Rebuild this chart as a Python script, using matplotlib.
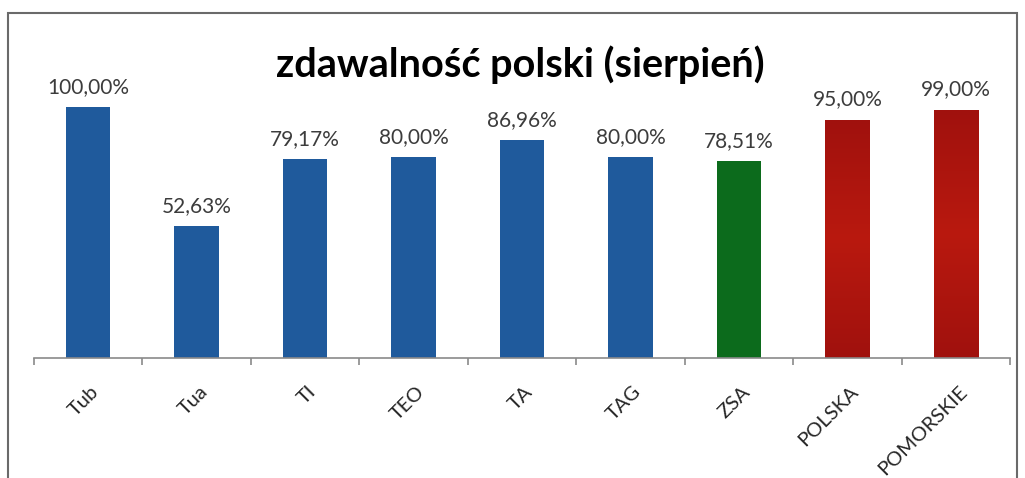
import matplotlib.pyplot as plt
from matplotlib.patches import Rectangle
from matplotlib.colors import LinearSegmentedColormap
import numpy as np

categories = ['Tub', 'Tua', 'TI', 'TEO', 'TA', 'TAG', 'ZSA', 'POLSKA', 'POMORSKIE']
values = [100.00, 52.63, 79.17, 80.00, 86.96, 80.00, 78.51, 95.00, 99.00]
colors = ['#1f5a9c'] * 6 + ['#0c6b1c'] + ['#a8130f'] * 2

plt.rcParams['font.family'] = ['Lato', 'DejaVu Sans']

fig = plt.figure(figsize=(10.25, 4.78), dpi=100)
fig.patches.append(Rectangle((8 / 1025, -0.01), 1009 / 1025, 1 - 13 / 478 + 0.01,
                             transform=fig.transFigure, fill=False,
                             edgecolor='#6a6a6a', linewidth=1.5))

ax = fig.add_axes([34 / 1025, 120 / 478, 976 / 1025, 280 / 478])
x = np.arange(len(categories))
bars = ax.bar(x, values, width=0.41, color=colors)

# faint glossy band in the red bars, as in the original
red_cmap = LinearSegmentedColormap.from_list('red', ['#a0110d', '#b9190f', '#a0110d'])
grad = np.linspace(0, 1, 256).reshape(-1, 1)
for b in bars[7:]:
    im = ax.imshow(grad, cmap=red_cmap, aspect='auto', origin='lower',
                   extent=(b.get_x(), b.get_x() + b.get_width(), 0, b.get_height()),
                   zorder=b.get_zorder() + 0.1)
    im.set_clip_path(b)

for xi, v in zip(x, values):
    ax.text(xi, v + 4, f'{v:.2f}%'.replace('.', ','), ha='center', va='bottom',
            fontsize=15, color='#3c3c3c')

ax.set_xlim(-0.5, len(categories) - 0.5)
ax.set_ylim(0, 280 / 251 * 100)
for s in ['top', 'right', 'left']:
    ax.spines[s].set_visible(False)
ax.spines['bottom'].set_color('#8a8a8a')
ax.spines['bottom'].set_linewidth(1.2)
ax.set_yticks([])
ax.set_xticks(np.arange(-0.5, len(categories)))
ax.set_xticklabels([])
ax.tick_params(axis='x', length=5, color='#8a8a8a', width=1.2)

for xi, c in zip(x, categories):
    ax.text(xi + 0.02, -10, c, rotation=45, ha='right', va='top',
            rotation_mode='anchor', fontsize=14.5, color='#262626')

fig.text(520 / 1025, 1 - 65 / 478, 'zdawalność polski (sierpień)', ha='center',
         va='center', fontsize=28.5, fontweight='bold', color='black')

fig.savefig('out.png', dpi=100, facecolor='white')
